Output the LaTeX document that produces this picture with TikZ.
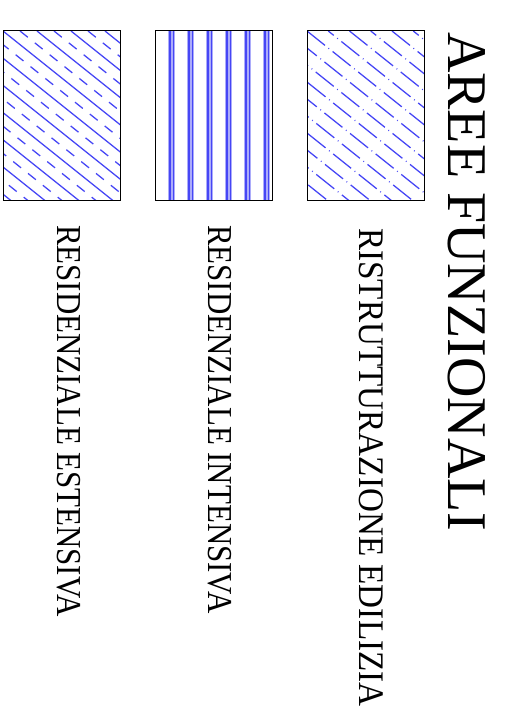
\documentclass[tikz,border=0pt]{standalone}
\usepackage{fontspec}
\setmainfont{Liberation Serif}
\usetikzlibrary{calc}
\definecolor{hatch}{RGB}{70,70,245}

\begin{document}
\begin{tikzpicture}[x=1pt,y=-1pt,
    legendbox/.style={draw,line width=1pt,minimum width=117pt,minimum height=169pt,inner sep=0pt},
    legendtext/.style={rotate=-90,anchor=base west,inner sep=0pt},
    hatchline/.style={hatch,line width=1.3pt}]
    \useasboundingbox (0,0) rectangle (510,714);
    % residenziale estensiva: solid and dashed diagonals
    \node [legendbox,path picture={
        \foreach \k in {-9,...,4} {
            \draw [hatchline] ($(path picture bounding box.north west)+(\k*34,0)$) -- ++(260,208);
            \draw [hatchline,dash pattern=on 10pt off 9pt] ($(path picture bounding box.north west)+(\k*34+17,0)$) -- ++(260,208);
        }}] (estensiva) at (61.5,115.5) {};
    % residenziale intensiva: vertical bands
    \node [legendbox,path picture={
        \foreach \k in {0,...,5} {
            \fill [hatch!45] ($(path picture bounding box.north west)+(13+\k*19,0)$) rectangle ++(7,169);
            \draw [hatchline,line width=1.1pt] ($(path picture bounding box.north west)+(15+\k*19,0)$) -- ++(0,169);
            \draw [hatchline,line width=1.1pt] ($(path picture bounding box.north west)+(18.5+\k*19,0)$) -- ++(0,169);
        }}] (intensiva) at (213.5,115.5) {};
    % ristrutturazione edilizia: staggered long dashes
    \node [legendbox,path picture={
        \foreach \k in {-11,...,6} {
            \pgfmathsetmacro\ph{mod(\k+20,2)*16}
            \draw [hatchline,dash pattern=on 23pt off 4.5pt on 0.8pt off 4.5pt,dash phase=\ph pt] ($(path picture bounding box.north west)+(\k*21.25,0)$) -- ++(260,208);
        }}] (ristrutturazione) at (365.5,115.5) {};

    \node [legendtext,font=\fontsize{56}{60}\selectfont] (titolo) at (448,32) {AREE FUNZIONALI};
    \node [legendtext,font=\fontsize{36}{40}\selectfont] (ristrutturazionetxt) at (359,228) {\scalebox{0.922}[1]{RISTRUTTURAZIONE EDILIZIA}};
    \node [legendtext,font=\fontsize{35}{40}\selectfont] (intensivatxt) at (208,225) {\scalebox{0.883}[1]{RESIDENZIALE INTENSIVA}};
    \node [legendtext,font=\fontsize{35}{40}\selectfont] (estensivatxt) at (57,225) {\scalebox{0.883}[1]{RESIDENZIALE ESTENSIVA}};
\end{tikzpicture}
\end{document}
